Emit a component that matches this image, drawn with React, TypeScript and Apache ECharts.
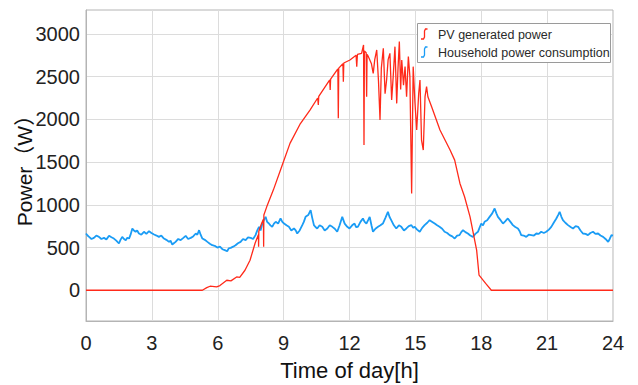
import React, { useEffect, useRef } from "react";
import * as echarts from "echarts";

const xTicks = [0, 3, 6, 9, 12, 15, 18, 21, 24];
const yTicks = [0, 500, 1000, 1500, 2000, 2500, 3000];
const seriesNames = ["PV generated power", "Household power consumption"];

const pvHours = [0, 5.3, 5.5, 5.65, 5.95, 6.1, 6.41, 6.6, 6.86, 7.0, 7.24, 7.47, 7.7, 7.85, 7.86, 7.87, 8.0, 8.08, 8.09, 8.1, 8.23, 8.53, 8.91, 9.29, 9.74, 10.2, 10.55, 10.58, 10.6, 11.1, 11.12, 11.14, 11.47, 11.49, 11.51, 11.7, 11.72, 11.74, 12.02, 12.3, 12.33, 12.36, 12.55, 12.64, 12.66, 12.68, 12.76, 12.78, 12.8, 12.86, 13.0, 13.08, 13.15, 13.24, 13.32, 13.39, 13.45, 13.54, 13.62, 13.69, 13.76, 13.84, 13.92, 13.99, 14.07, 14.15, 14.21, 14.27, 14.33, 14.38, 14.46, 14.53, 14.6, 14.68, 14.75, 14.83, 14.9, 14.98, 15.06, 15.15, 15.21, 15.28, 15.36, 15.44, 15.51, 15.57, 15.74, 16.12, 16.58, 16.79, 17.03, 17.24, 17.49, 17.79, 17.9, 18.2, 18.46, 24];
const pvPower = [0, 0, 30, 47, 40, 55, 117, 110, 156, 150, 234, 351, 550, 650, 510, 690, 785, 830, 510, 880, 976, 1172, 1445, 1719, 1940, 2109, 2250, 2168, 2270, 2461, 2343, 2470, 2590, 2012, 2600, 2650, 2441, 2660, 2695, 2750, 2617, 2760, 2773, 2871, 1699, 2800, 2780, 2265, 2760, 2734, 2650, 2539, 2700, 2812, 2450, 1992, 2600, 2832, 2300, 2461, 2700, 2773, 2226, 2500, 2851, 2187, 2600, 2910, 2350, 2695, 2400, 2617, 2265, 2734, 2500, 1133, 2617, 2200, 1875, 2300, 2461, 1758, 1641, 2265, 2383, 2265, 2148, 1875, 1641, 1523, 1250, 1094, 859, 469, 176, 80, 0, 0];

const houseHours = [0.0, 0.07, 0.14, 0.25, 0.36, 0.47, 0.59, 0.7, 0.82, 0.93, 1.05, 1.16, 1.27, 1.38, 1.5, 1.57, 1.65, 1.73, 1.81, 1.88, 1.96, 2.03, 2.11, 2.18, 2.26, 2.33, 2.41, 2.52, 2.64, 2.75, 2.87, 2.98, 3.1, 3.21, 3.32, 3.43, 3.55, 3.66, 3.78, 3.85, 3.93, 4.0, 4.08, 4.2, 4.31, 4.42, 4.54, 4.65, 4.77, 4.88, 5.0, 5.07, 5.15, 5.22, 5.3, 5.41, 5.53, 5.64, 5.75, 5.86, 5.98, 6.1, 6.21, 6.32, 6.43, 6.5, 6.59, 6.7, 6.81, 6.92, 7.04, 7.15, 7.27, 7.38, 7.5, 7.61, 7.72, 7.8, 7.88, 7.95, 8.03, 8.1, 8.18, 8.25, 8.33, 8.4, 8.48, 8.56, 8.64, 8.75, 8.86, 8.94, 9.02, 9.13, 9.24, 9.35, 9.47, 9.55, 9.62, 9.73, 9.85, 9.92, 10.0, 10.12, 10.23, 10.3, 10.38, 10.45, 10.53, 10.64, 10.76, 10.87, 10.99, 11.1, 11.22, 11.33, 11.44, 11.55, 11.67, 11.78, 11.9, 12.0, 12.12, 12.23, 12.3, 12.38, 12.5, 12.61, 12.69, 12.77, 12.85, 12.92, 13.0, 13.07, 13.18, 13.3, 13.41, 13.52, 13.64, 13.75, 13.82, 13.9, 14.02, 14.13, 14.25, 14.36, 14.48, 14.59, 14.7, 14.82, 14.9, 14.97, 15.08, 15.2, 15.31, 15.42, 15.54, 15.65, 15.77, 15.88, 15.99, 16.1, 16.22, 16.33, 16.45, 16.56, 16.68, 16.79, 16.9, 17.01, 17.09, 17.17, 17.28, 17.39, 17.5, 17.62, 17.73, 17.85, 17.92, 18.0, 18.08, 18.15, 18.27, 18.38, 18.5, 18.61, 18.69, 18.76, 18.88, 18.99, 19.1, 19.21, 19.33, 19.44, 19.55, 19.67, 19.75, 19.82, 19.93, 20.05, 20.16, 20.28, 20.4, 20.51, 20.62, 20.73, 20.85, 20.96, 21.08, 21.19, 21.3, 21.42, 21.5, 21.57, 21.65, 21.72, 21.83, 21.95, 22.07, 22.18, 22.3, 22.41, 22.52, 22.63, 22.75, 22.86, 22.97, 23.09, 23.2, 23.32, 23.43, 23.55, 23.66, 23.78, 23.85, 23.93, 24.0];
const housePower = [664, 640, 625, 600, 613, 640, 625, 600, 613, 595, 637, 620, 605, 580, 547, 590, 625, 600, 586, 615, 605, 650, 723, 700, 684, 700, 664, 650, 684, 660, 691, 670, 652, 640, 625, 640, 605, 590, 566, 580, 535, 550, 566, 600, 586, 610, 637, 600, 613, 630, 664, 650, 703, 650, 605, 590, 566, 545, 527, 520, 500, 510, 480, 470, 457, 490, 496, 510, 527, 550, 566, 600, 586, 620, 613, 600, 645, 700, 742, 700, 781, 820, 859, 800, 781, 760, 742, 780, 801, 780, 840, 800, 781, 760, 742, 700, 723, 700, 664, 700, 762, 800, 859, 880, 937, 850, 762, 740, 723, 760, 742, 700, 723, 760, 742, 720, 684, 760, 859, 780, 742, 723, 760, 781, 740, 742, 800, 840, 800, 781, 820, 859, 760, 684, 720, 742, 760, 781, 850, 918, 860, 820, 760, 723, 760, 742, 700, 723, 750, 762, 730, 742, 710, 684, 730, 762, 790, 820, 800, 781, 760, 742, 720, 684, 670, 645, 630, 605, 640, 645, 680, 703, 680, 664, 640, 625, 660, 684, 730, 781, 760, 801, 820, 859, 900, 957, 900, 859, 820, 781, 810, 840, 800, 762, 740, 723, 690, 645, 640, 625, 650, 645, 640, 664, 660, 684, 670, 684, 710, 742, 790, 840, 880, 918, 860, 820, 790, 762, 740, 723, 750, 742, 700, 664, 660, 645, 670, 684, 660, 664, 640, 625, 600, 566, 600, 645, 640];

const RED = "#ff2a1a";
const BLUE = "#1a9cf5";
const font = "'Liberation Sans', 'Noto Sans CJK JP', sans-serif";

const legendIconPoints = (y0: number) => [
  [4, y0 + 10],
  [6.5, y0 + 10],
  [7.5, y0 + 8],
  [7.5, y0 + 2],
  [8.5, y0],
  [10.5, y0],
];

export default function App() {
  const ref = useRef<HTMLDivElement>(null);
  useEffect(() => {
    const chart = echarts.init(ref.current!, null, { renderer: "svg" });
    chart.setOption({
      animation: false,
      backgroundColor: "#ffffff",
      color: [RED, BLUE],
      grid: { left: 86, right: 25, top: 10, bottom: 64, show: true, borderColor: "#b4b4b4", borderWidth: 1, containLabel: false, outerBoundsMode: "none" },
      legend: { show: false, data: seriesNames },
      graphic: [
        { type: "rect", left: 417, top: 23, z: 100, shape: { x: 0, y: 0, width: 193, height: 39 }, style: { fill: "#ffffff", stroke: "#9a9a9a", lineWidth: 1 } },
        { type: "polyline", x: 417, y: 23, z: 101, shape: { points: legendIconPoints(6) }, style: { stroke: RED, lineWidth: 1.3, fill: null } },
        { type: "text", x: 438, y: 34.5, z: 101, style: { text: seriesNames[0], fill: "#2a2a2a", fontSize: 12.5, fontFamily: font, verticalAlign: "middle" } },
        { type: "polyline", x: 417, y: 23, z: 101, shape: { points: legendIconPoints(24) }, style: { stroke: BLUE, lineWidth: 1.3, fill: null } },
        { type: "text", x: 438, y: 52.5, z: 101, style: { text: seriesNames[1], fill: "#2a2a2a", fontSize: 12.5, fontFamily: font, verticalAlign: "middle" } },
      ],
      xAxis: {
        type: "value",
        min: 0,
        max: 24,
        interval: 3,
        name: "Time of day[h]",
        nameLocation: "middle",
        nameGap: 38,
        nameTextStyle: { fontSize: 22, color: "#111", fontFamily: font, verticalAlign: "top" },
        axisLine: { show: true, onZero: false, lineStyle: { color: "#b4b4b4" } },
        axisTick: { show: false },
        axisLabel: { fontSize: 20, color: "#222", margin: 12, fontFamily: font, customValues: xTicks, formatter: (v: number) => String(v) },
        splitLine: { show: true, lineStyle: { color: "#dcdcdc", width: 1 } },
      },
      yAxis: {
        type: "value",
        min: -360,
        max: 3280,
        name: "Power（W）",
        nameLocation: "middle",
        nameGap: 51,
        nameMoveOverlap: false,
        nameTextStyle: { fontSize: 21, color: "#111", fontFamily: font },
        axisLine: { show: true, lineStyle: { color: "#b4b4b4" } },
        axisTick: { show: false, customValues: yTicks },
        axisLabel: { fontSize: 20, color: "#222", margin: 6, fontFamily: font, customValues: yTicks, formatter: (v: number) => String(v) },
        splitLine: { show: true, lineStyle: { color: "#dcdcdc", width: 1 } },
      },
      series: [
        {
          name: seriesNames[0],
          type: "line",
          showSymbol: false,
          data: pvHours.map((h, i) => [h, pvPower[i]]),
          lineStyle: { color: RED, width: 1.3 },
          itemStyle: { color: RED },
          z: 3,
        },
        {
          name: seriesNames[1],
          type: "line",
          showSymbol: false,
          data: houseHours.map((h, i) => [h, housePower[i]]),
          lineStyle: { color: BLUE, width: 1.8 },
          itemStyle: { color: BLUE },
          z: 2,
        },
      ],
    });
    return () => chart.dispose();
  }, []);
  return <div ref={ref} style={{ width: 638, height: 385, position: "absolute", left: 0, top: 0 }} />;
}
